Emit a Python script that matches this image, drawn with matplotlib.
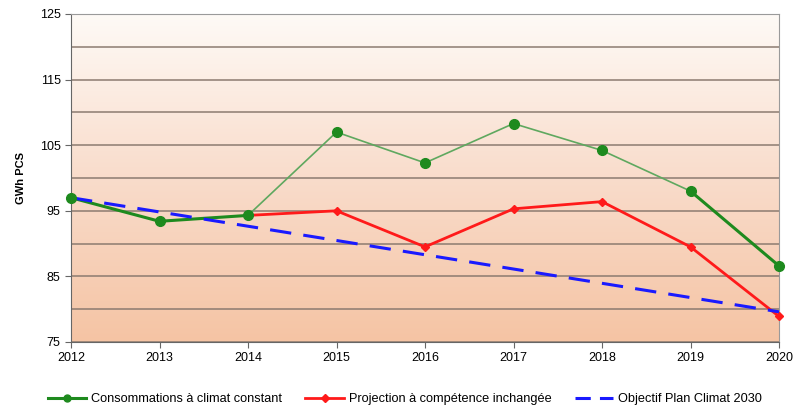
import matplotlib as mpl
mpl.use("Agg")
import matplotlib.pyplot as plt
import numpy as np
from matplotlib.colors import LinearSegmentedColormap

plt.rcParams['font.family'] = ['Liberation Sans', 'DejaVu Sans']

annees = [2012, 2013, 2014, 2015, 2016, 2017, 2018, 2019, 2020]
conso = [97.0, 93.4, 94.3, 107.0, 102.3, 108.3, 104.2, 98.0, 86.6]
projection_annees = [2014, 2015, 2016, 2017, 2018, 2019, 2020]
projection = [94.3, 95.0, 89.5, 95.3, 96.4, 89.5, 78.9]
objectif_annees = [2012, 2020]
objectif = [97.0, 79.6]

vert = '#1e8a1e'
vert_clair = '#5fa85f'

fig = plt.figure(figsize=(7.95, 4.12), dpi=100)
ax = fig.add_axes([71/795, 70/412, 708/795, 328/412])

# fond en dégradé blanc -> pêche
degrade = LinearSegmentedColormap.from_list('fond', ['#fefaf6', '#f9dccb', '#f5c4a4'])
ax.imshow(np.linspace(0, 1, 256).reshape(-1, 1), cmap=degrade, aspect='auto',
          extent=[2012, 2020, 75, 125], origin='upper', zorder=0)

ax.set_xlim(2012, 2020)
ax.set_ylim(75, 125)
ax.set_yticks(range(75, 126, 10))
ax.set_yticks(range(80, 125, 10), minor=True)
ax.set_xticks(annees)
ax.grid(True, which='both', axis='y', color='#8c7b70', linewidth=1.1, zorder=1)
ax.tick_params(axis='y', which='minor', length=0)
ax.tick_params(axis='both', which='major', length=4, color='#666666', labelsize=9)
for s in ['left', 'bottom', 'right', 'top']:
    ax.spines[s].set_color('#9a9a9a')
ax.spines['left'].set_color('#666666')
ax.spines['bottom'].set_color('#666666')

# consommations : trait épais au début et à la fin, fin entre 2014 et 2019
ax.plot(annees[:3], conso[:3], color=vert, linewidth=2.2, zorder=3)
ax.plot(annees[2:8], conso[2:8], color=vert_clair, linewidth=1.2, zorder=3)
ax.plot(annees[7:], conso[7:], color=vert, linewidth=2.2, zorder=3)
ax.plot(annees, conso, linestyle='none', marker='o', markersize=7,
        color=vert, zorder=5, clip_on=False)

ax.plot(projection_annees, projection, color='#ff1a1a', linewidth=2, marker='D',
        markersize=4, zorder=4, clip_on=False)
ax.plot(objectif_annees, objectif, color='#1a1aff', linewidth=2.2,
        dashes=(7, 4), zorder=4)

ax.set_ylabel('GWh PCS', fontsize=8, fontweight='bold', labelpad=10)

l1, = ax.plot([], [], color=vert, linewidth=2.2, marker='o', markersize=5)
l2, = ax.plot([], [], color='#ff1a1a', linewidth=2, marker='D', markersize=4)
l3, = ax.plot([], [], color='#1a1aff', linewidth=2.2, dashes=(5, 3))
fig.legend([l1, l2, l3],
           ['Consommations à climat constant', 'Projection à compétence inchangée',
            'Objectif Plan Climat 2030'],
           loc='center', bbox_to_anchor=(405/795, 1 - 399/412), ncol=3,
           frameon=False, fontsize=9.2, handlelength=3, columnspacing=1.8, handletextpad=0.4)

fig.savefig('out.png', dpi=100)
